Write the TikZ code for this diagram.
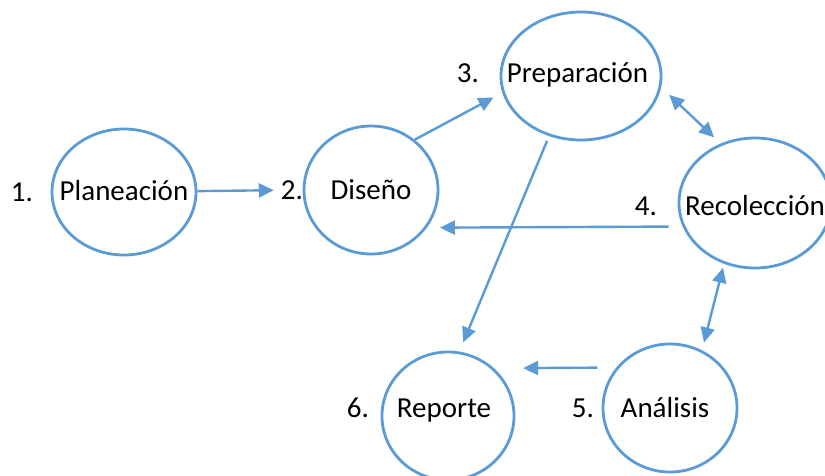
\documentclass[tikz,border=0pt]{standalone}
\usepackage{fontspec}
\setmainfont{Carlito}
\usepackage{tikz}
\usetikzlibrary{shapes.geometric,arrows.meta}
\definecolor{stepBlue}{HTML}{5B9BD5}
\newcommand{\stepFont}{\fontsize{29}{35}\selectfont}
\newcommand{\stepTip}{Triangle[length=15pt,width=14pt]}
\newcommand{\phaseText}[3]{\makebox[0pt]{\kern#1\raisebox{#2}{#3}}}

\begin{document}
\begin{tikzpicture}[x=1pt, y=-1pt,
      phase/.style={ellipse, draw=stepBlue, line width=2.8pt, inner sep=0pt,
         font=\stepFont, text height=18.6pt, text depth=0pt},
      num/.style={inner sep=3pt, font=\stepFont, text height=18.6pt, text depth=0pt},
      flow/.style={draw=stepBlue, line width=2.4pt, -{\stepTip}},
      both/.style={draw=stepBlue, line width=2.4pt, {\stepTip}-{\stepTip}}]
         \useasboundingbox (0,0) rectangle (825,476);

         \node[phase, minimum width=144pt, minimum height=126pt] (plan) at (124,192) {\phaseText{0pt}{1pt}{Planeación}};
         \node[phase, minimum width=134pt, minimum height=128pt] (dis) at (371,190) {\phaseText{0pt}{0pt}{Diseño}};
         \node[phase, minimum width=160pt, minimum height=128pt] (prep) at (581,76) {\phaseText{-7pt}{3pt}{Preparación}};
         \node[phase, minimum width=152pt, minimum height=130pt] (recol) at (755,203) {\phaseText{0pt}{-3pt}{Recolección}};
         \node[phase, minimum width=134pt, minimum height=128pt] (anal) at (670,408) {\phaseText{-10pt}{0pt}{Análisis}};
         \node[phase, minimum width=132pt, minimum height=128pt] (rep) at (448,416) {\phaseText{-8pt}{8pt}{Reporte}};

         \node[num] (n1) at (22,192) {1.};
         \node[num] (n2) at (292,190) {2.};
         \node[num] (n3) at (468,73) {3.};
         \node[num] (n4) at (646,206) {4.};
         \node[num] (n5) at (583,408) {5.};
         \node[num] (n6) at (358,408) {6.};

         \draw[flow, shorten >=4pt] (plan) -- (n2);
         \draw[flow, shorten >=10pt] (dis.49) -- (prep.192.3);
         \draw[both, shorten <=11pt, shorten >=9pt] (prep.-8.8) -- (recol.120.6);
         \draw[flow, shorten <=5pt, shorten >=10pt] (prep.242.7) -- (rep.80);
         \draw[flow, shorten <=14pt, shorten >=13pt] (recol.198.8) -- (dis.-34.1);
         \draw[both, shorten <=4pt, shorten >=8pt] (recol.243.3) -- (anal.61.3);
         \draw[flow, shorten <=19pt, shorten >=29pt] (anal.143.7) -- (rep.46.4);
      \end{tikzpicture}
\end{document}
